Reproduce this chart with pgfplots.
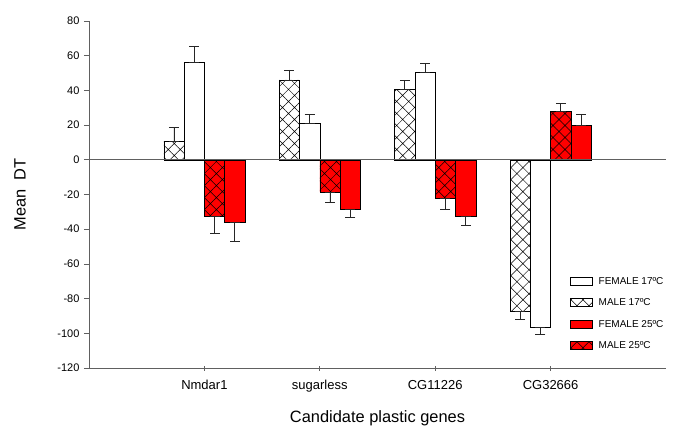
\documentclass[border=0pt]{standalone}
\usepackage{pgfplots}
\pgfplotsset{compat=1.18}
\usepackage{fontspec}
\setmainfont{Liberation Sans}
\usetikzlibrary{patterns.meta}
\definecolor{axgray}{RGB}{96,96,96}
\tikzset{hatchx/.style={postaction={pattern={Hatch[angle=45,distance=8.5pt,line width=0.5pt]},pattern color=black}}}
\begin{document}
\begin{tikzpicture}
\path[use as bounding box] (-89pt,-70pt) rectangle (596pt,368pt);
\begin{axis}[
  at={(0pt,0pt)}, anchor=south west,
  scale only axis, width=577pt, height=347pt,
  xmin=0, xmax=5, ymin=-120, ymax=80,
  ytick={-120,-100,...,80},
  xtick={1,2,3,4}, xticklabels={Nmdar1,sugarless,CG11226,CG32666},
  axis x line*=bottom, axis y line*=left,
  axis line style={axgray, line width=0.8pt},
  tick style={axgray, line width=0.7pt},
  tick align=outside, major tick length=5pt,
  xtick style={yshift=2pt},
  /pgf/number format/assume math mode=true,
  yticklabel style={font=\fontsize{11}{13}\selectfont, xshift=-1pt},
  xticklabel style={font=\fontsize{13}{15}\selectfont, yshift=-4pt},
  xlabel={Candidate plastic genes}, ylabel={Mean\ \ DT},
  every axis x label/.style={at={(axis description cs:0.5,-0.144)}, anchor=center, font=\fontsize{16.4}{19}\selectfont},
  every axis y label/.style={at={(axis description cs:-0.1196,0.5)}, rotate=90, anchor=center, font=\fontsize{16.4}{19}\selectfont},
  ybar, bar width=20.3pt,
  error bars/y dir=both, error bars/y explicit,
  error bars/error mark options={rotate=90, mark size=5pt, line width=0.7pt, black!85},
  error bars/error bar style={line width=0.7pt, black!85},
  legend image code/.code={\draw[#1] (0pt,-4pt) rectangle (22pt,4pt); \path (27pt,0pt);},
  legend style={draw=none, fill=none, at={(axis description cs:0.8336,0.2646)}, anchor=north west,
    font=\fontsize{10}{12}\selectfont, row sep=12.5pt, inner sep=0pt,
    nodes={inner sep=1pt, text depth=0pt}},
  legend cell align=left,
]
% FEMALE 17
\addplot[draw=black, line width=0.5pt, fill=white, bar shift=-10.15pt] coordinates {
  (1,56.0) += (0,9.2) -= (0,0)
  (2,21.0) += (0,5.0) -= (0,0)
  (3,50.4) += (0,5.0) -= (0,0)
  (4,-96.4) += (0,0) -= (0,4.2)
};
\addlegendentry{FEMALE 17ºC}
% MALE 17
\addplot[draw=black, line width=0.5pt, fill=white, hatchx, bar shift=-30.45pt] coordinates {
  (1,10.7) += (0,8.0) -= (0,0)
  (2,46.0) += (0,5.8) -= (0,0)
  (3,40.8) += (0,5.0) -= (0,0)
  (4,-87.5) += (0,0) -= (0,4.4)
};
\addlegendentry{MALE 17ºC}
% FEMALE 25
\addplot[draw=black, line width=0.5pt, fill=red, bar shift=30.45pt] coordinates {
  (1,-36.0) += (0,0) -= (0,11.0)
  (2,-28.5) += (0,0) -= (0,4.9)
  (3,-32.6) += (0,0) -= (0,5.2)
  (4,20.0) += (0,6.4) -= (0,0)
};
\addlegendentry{FEMALE 25ºC}
% MALE 25
\addplot[draw=black, line width=0.5pt, fill=red, hatchx, bar shift=10.15pt] coordinates {
  (1,-32.8) += (0,0) -= (0,9.8)
  (2,-18.7) += (0,0) -= (0,5.8)
  (3,-22.2) += (0,0) -= (0,6.2)
  (4,28.1) += (0,4.2) -= (0,0)
};
\addlegendentry{MALE 25ºC}
\draw[axgray, line width=0.8pt] (axis cs:0,0) -- (axis cs:5,0);
\end{axis}
\end{tikzpicture}
\end{document}
